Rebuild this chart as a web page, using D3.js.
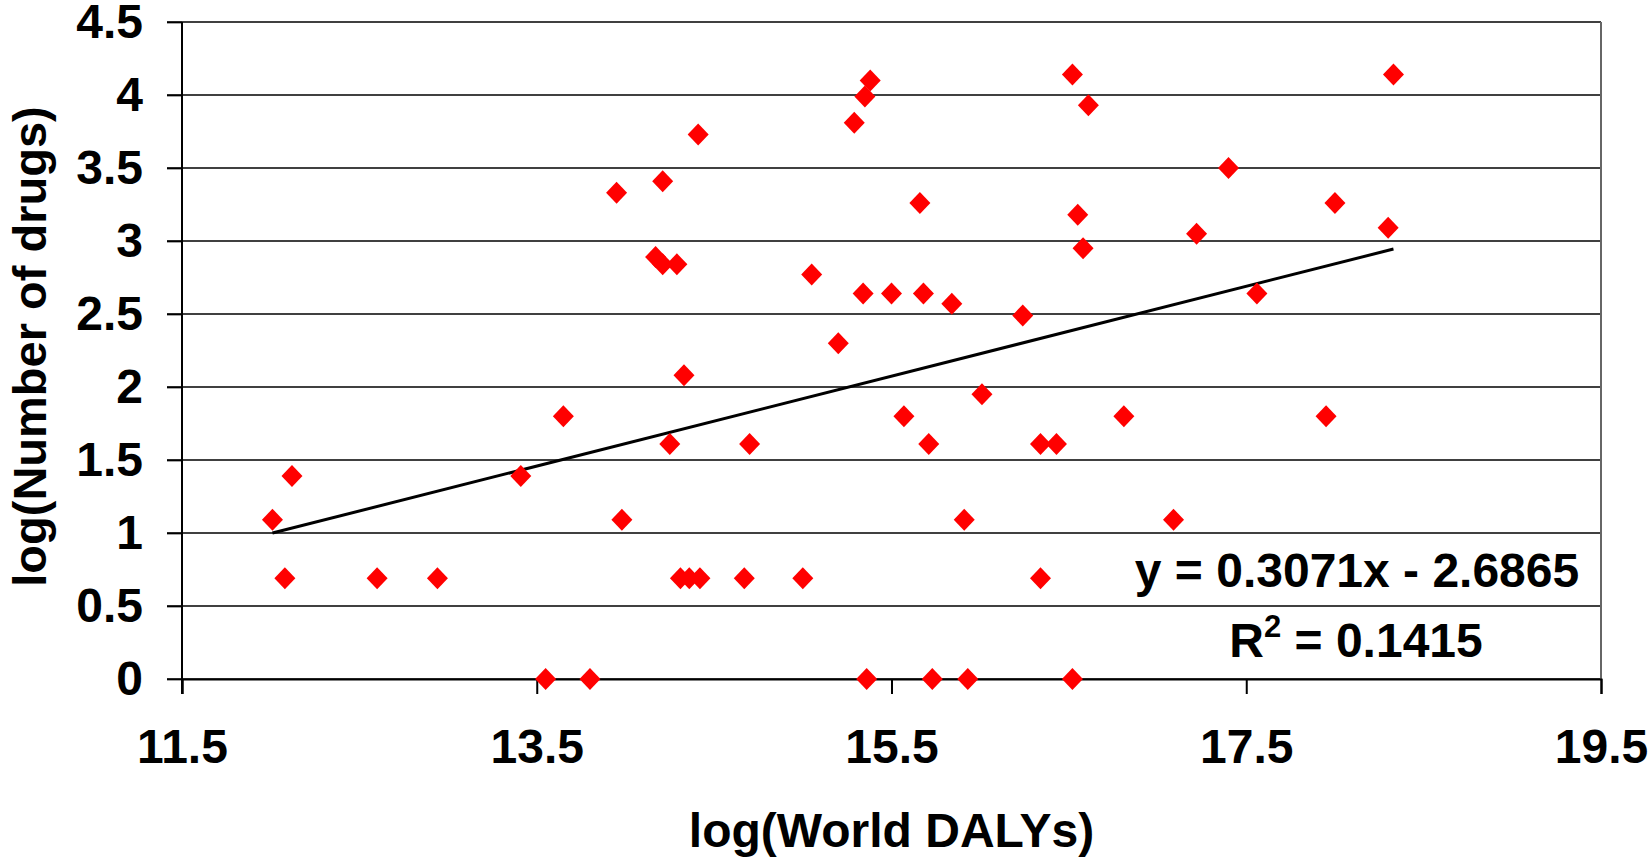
<!DOCTYPE html>
<html>
<head>
<meta charset="utf-8">
<script src="https://cdn.jsdelivr.net/npm/d3@7"></script>
<style>
  body { margin: 0; background: #fff; }
  text { font-family: "Liberation Sans", Arial, sans-serif; font-weight: bold; fill: #000; }
</style>
</head>
<body>
<div id="chart"></div>
<script>
// data
const dalys = [12.01, 12.12, 12.08, 12.60, 12.94, 13.41, 13.55, 13.65, 13.80, 13.95,
  13.98, 14.17, 14.21, 14.21, 14.25, 14.29, 14.31, 14.33, 14.36, 14.41,
  14.42, 14.67, 14.70, 15.00, 15.05, 15.20, 15.29, 15.34, 15.35, 15.36,
  15.38, 15.50, 15.57, 15.66, 15.68, 15.71, 15.73, 15.84, 15.91, 15.93,
  16.01, 16.24, 16.34, 16.34, 16.43, 16.52, 16.52, 16.55, 16.58, 16.61,
  16.81, 17.09, 17.22, 17.40, 17.56, 17.95, 18.00, 18.30, 18.33];
const drugs = [1.09, 1.39, 0.69, 0.69, 0.69, 1.39, 0, 1.80, 0, 3.33,
  1.09, 2.89, 2.84, 3.41, 1.61, 2.84, 0.69, 2.08, 0.69, 3.73,
  0.69, 0.69, 1.61, 0.69, 2.77, 2.30, 3.81, 2.64, 3.99, 0,
  4.10, 2.64, 1.80, 3.26, 2.64, 1.61, 0, 2.57, 1.09, 0,
  1.95, 2.49, 1.61, 0.69, 1.61, 4.14, 0, 3.18, 2.95, 3.93,
  1.80, 1.09, 3.05, 3.50, 2.64, 1.80, 3.26, 3.09, 4.14];
const trendX = [12.01, 18.33];
const trendY = [1.0, 2.945];
const xTicks = [11.5, 13.5, 15.5, 17.5, 19.5];
const yTicks = [0, 0.5, 1, 1.5, 2, 2.5, 3, 3.5, 4, 4.5];
const equation = "y = 0.3071x - 2.6865";
const rSquared = "0.1415";

const W = 1652, H = 861;
const margin = {top: 22, right: 51, bottom: 182, left: 182};
const width = W - margin.left - margin.right,
      height = H - margin.top - margin.bottom;

const svg = d3.select("#chart")
  .append("svg")
    .attr("width", W)
    .attr("height", H)
  .append("g")
    .attr("transform", `translate(${margin.left},${margin.top})`);

const x = d3.scaleLinear().domain([11.5, 19.5]).range([0, width]);
const y = d3.scaleLinear().domain([0, 4.5]).range([height, 0]);

// horizontal grid lines
svg.append("g")
  .selectAll("line")
  .data(yTicks)
  .join("line")
    .attr("x1", -15)
    .attr("x2", width)
    .attr("y1", d => y(d))
    .attr("y2", d => y(d))
    .attr("stroke", "#000")
    .attr("stroke-width", 1.7);

// right border of plot area
svg.append("line")
  .attr("x1", width).attr("x2", width)
  .attr("y1", 0).attr("y2", height)
  .attr("stroke", "#666")
  .attr("stroke-width", 2);

// X axis
const xAxis = svg.append("g")
  .attr("transform", `translate(0,${height})`)
  .call(d3.axisBottom(x).tickValues(xTicks).tickFormat(d3.format(".1f"))
    .tickSize(15).tickPadding(35));
xAxis.select(".domain").attr("stroke-width", 2);
xAxis.selectAll(".tick line").attr("stroke-width", 2);
xAxis.selectAll("text").style("font-size", "48px");

// Y axis
const yAxis = svg.append("g")
  .call(d3.axisLeft(y).tickValues(yTicks).tickFormat(d => d)
    .tickSize(15).tickSizeOuter(0).tickPadding(24));
yAxis.select(".domain").attr("stroke-width", 2)
  .attr("d", `M0,${y(4.5)}V${height + 15}`);
yAxis.selectAll(".tick line").attr("stroke-width", 1.7);
yAxis.selectAll("text").style("font-size", "48px");

// trend line
svg.append("line")
  .attr("x1", x(trendX[0])).attr("y1", y(trendY[0]))
  .attr("x2", x(trendX[1])).attr("y2", y(trendY[1]))
  .attr("stroke", "#000")
  .attr("stroke-width", 3);

// points (diamonds)
const pts = dalys.map((d, i) => ({x: d, y: drugs[i]}));
svg.append("g")
  .selectAll("path")
  .data(pts)
  .join("path")
    .attr("d", d => {
      const cx = x(d.x), cy = y(d.y);
      return `M${cx},${cy - 11}L${cx + 10.5},${cy}L${cx},${cy + 11}L${cx - 10.5},${cy}Z`;
    })
    .attr("fill", "#ff0000");

// equation label
svg.append("text")
  .attr("x", 1357 - margin.left)
  .attr("y", 587 - margin.top)
  .attr("text-anchor", "middle")
  .style("font-size", "48px")
  .text(equation);

const r2 = svg.append("text")
  .attr("x", 1356 - margin.left)
  .attr("y", 657 - margin.top)
  .attr("text-anchor", "middle")
  .style("font-size", "48px");
r2.append("tspan").text("R");
r2.append("tspan").attr("dy", -20).style("font-size", "31px").text("2");
r2.append("tspan").attr("dy", 20).text(" = " + rSquared);

// axis titles
svg.append("text")
  .attr("x", width / 2)
  .attr("y", 847 - margin.top)
  .attr("text-anchor", "middle")
  .style("font-size", "48px")
  .text("log(World DALYs)");

svg.append("text")
  .attr("transform", `translate(${46 - margin.left},${height / 2 - 4}) rotate(-90)`)
  .attr("text-anchor", "middle")
  .style("font-size", "47px")
  .text("log(Number of drugs)");
</script>
</body>
</html>
